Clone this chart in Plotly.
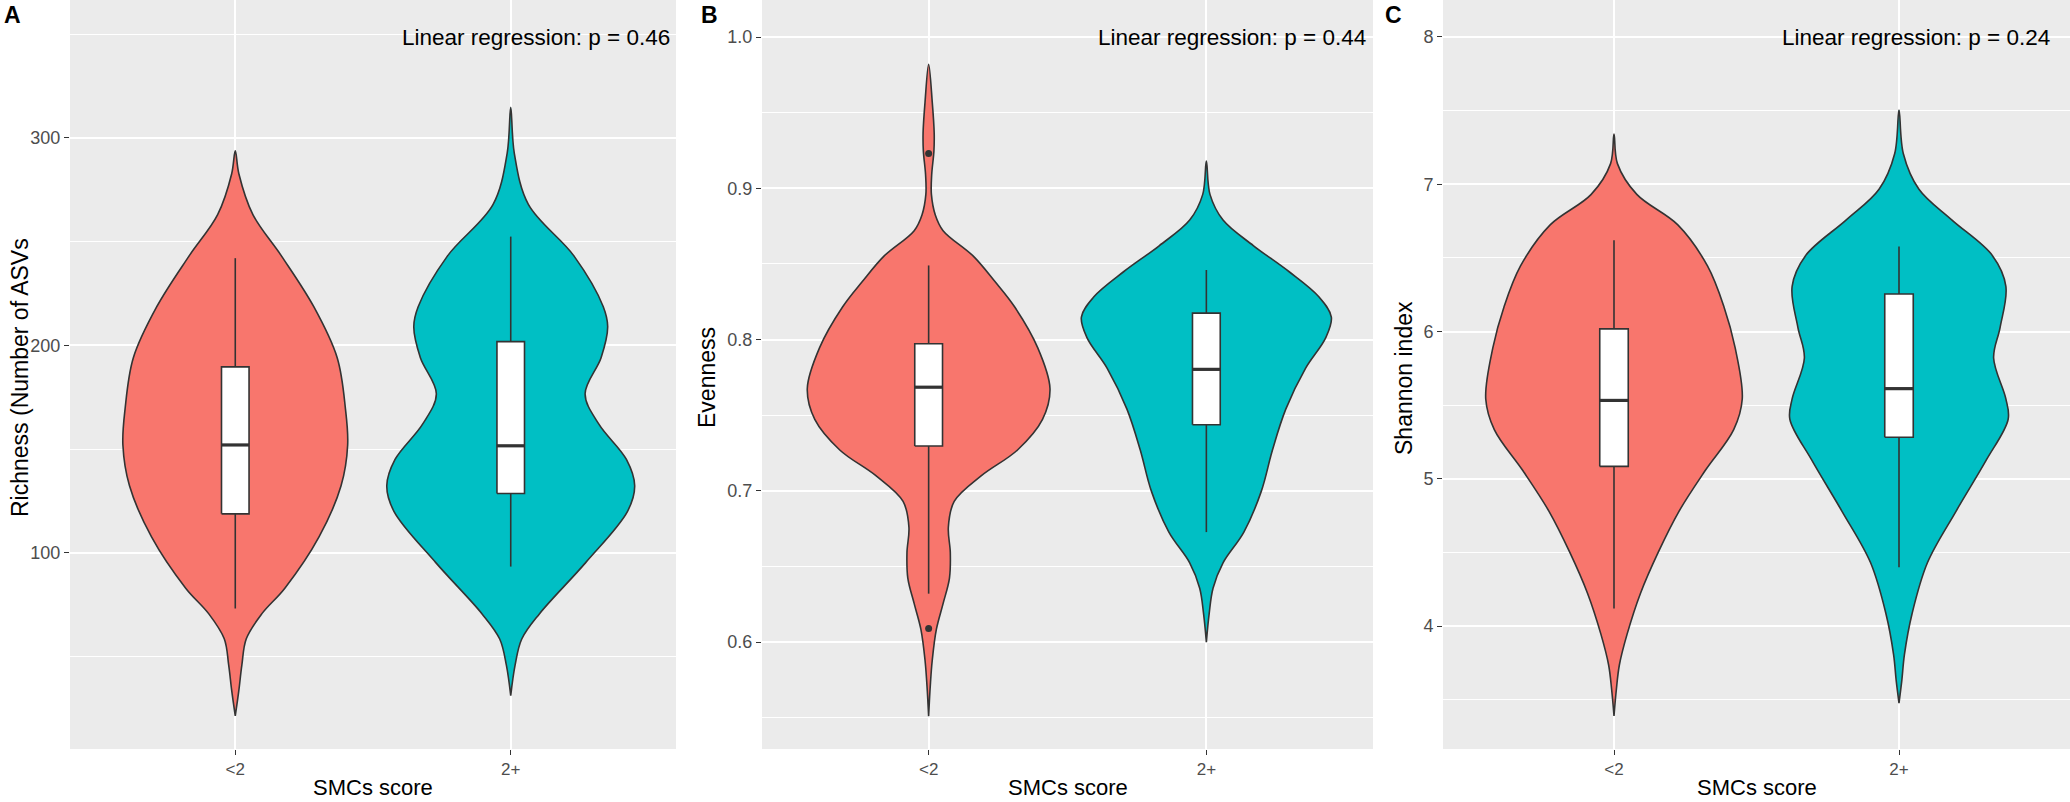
import plotly.graph_objects as go

W, H = 2070, 802
FONT = "Liberation Sans, Arial, sans-serif"
RED, TEAL = "#F8766D", "#00BFC4"
OUT = "#333333"

categories = ["<2", "2+"]
cat_pos = [1, 2]

# ---------- Panel A: Richness ----------
a_lt2_vals = [293.7, 282.7, 263, 243, 218.6, 194, 169.4, 152, 132.3, 107.7, 83, 70.6, 58.6, 46, 33.7, 21.4]
a_lt2_half = [0, 0.013, 0.064, 0.168, 0.285, 0.37, 0.40, 0.408, 0.384, 0.304, 0.18, 0.096, 0.04, 0.024, 0.013, 0]
a_ge2_vals = [314.7, 292.5, 267.9, 243, 218.6, 209, 194, 176.6, 162, 145, 132.3, 120, 95.3, 70.6, 58.5, 46, 31.2]
a_ge2_half = [0, 0.013, 0.064, 0.23, 0.336, 0.352, 0.328, 0.27, 0.32, 0.42, 0.45, 0.424, 0.272, 0.104, 0.04, 0.016, 0]
a_q1 = [118.8, 128.6]
a_med = [152, 151.6]
a_q3 = [189.6, 201.8]
a_lo = [73.2, 93.4]
a_hi = [242, 252.4]
a_out_x, a_out_y = [], []

# ---------- Panel B: Evenness ----------
b_lt2_vals = [0.982, 0.957, 0.9365, 0.9246, 0.909, 0.896, 0.8824, 0.872, 0.8553, 0.8385, 0.8215, 0.7945,
              0.7675, 0.7472, 0.727, 0.71, 0.693, 0.676, 0.6592, 0.6423, 0.6254, 0.6085, 0.588, 0.5713, 0.551]
b_lt2_half = [0, 0.013, 0.02, 0.019, 0.011, 0.01, 0.024, 0.052, 0.16, 0.238, 0.31, 0.393,
              0.437, 0.41, 0.32, 0.19, 0.092, 0.071, 0.078, 0.075, 0.052, 0.028, 0.013, 0.006, 0]
b_ge2_vals = [0.918, 0.896, 0.879, 0.862, 0.845, 0.8283, 0.8149, 0.8013, 0.781, 0.754, 0.727, 0.6998,
              0.6727, 0.6524, 0.6356, 0.6186, 0.6]
b_ge2_half = [0, 0.013, 0.06, 0.17, 0.297, 0.405, 0.45, 0.43, 0.357, 0.286, 0.238, 0.198,
              0.135, 0.06, 0.024, 0.01, 0]
b_q1 = [0.7296, 0.7437]
b_med = [0.7685, 0.7803]
b_q3 = [0.7972, 0.8175]
b_lo = [0.632, 0.6727]
b_hi = [0.849, 0.846]
b_out_x, b_out_y = [1, 1], [0.923, 0.609]

# ---------- Panel C: Shannon ----------
c_lt2_vals = [7.341, 7.14, 6.931, 6.724, 6.445, 6.167, 5.89, 5.542, 5.334, 5.056, 4.779, 4.5, 4.223, 3.945, 3.737, 3.564, 3.39]
c_lt2_half = [0, 0.012, 0.08, 0.224, 0.328, 0.386, 0.425, 0.45, 0.42, 0.32, 0.228, 0.155, 0.093, 0.046, 0.019, 0.008, 0]
c_ge2_vals = [7.504, 7.209, 6.966, 6.758, 6.515, 6.307, 6.03, 5.82, 5.542, 5.404, 5.126, 4.779, 4.431, 4.085, 3.806, 3.633, 3.477]
c_ge2_half = [0, 0.015, 0.07, 0.185, 0.328, 0.375, 0.355, 0.332, 0.375, 0.383, 0.306, 0.2, 0.1, 0.046, 0.019, 0.01, 0]
c_q1 = [5.084, 5.282]
c_med = [5.532, 5.612]
c_q3 = [6.018, 6.255]
c_lo = [4.119, 4.4]
c_hi = [6.619, 6.578]
c_out_x, c_out_y = [], []

y_titles = ["Richness (Number of ASVs", "Evenness", "Shannon index"]
p_values = ["0.46", "0.44", "0.24"]
panel_letters = ["A", "B", "C"]
x_title = "SMCs score"

# ---------- layout geometry (pixels) ----------
panel_px = [(70, 676), (762, 1373), (1443, 2070)]
panel_bottom_px = 749
y_ranges = [[5.5, 366.4], [0.5293, 1.0245], [3.165, 8.251]]
y_dticks = [100, 0.1, 1]
y_fmt = ["d", ".1f", "d"]
ytitle_x_px = [20, 707, 1404]
letter_x_px = [12, 709, 1393]
annot_shift = [-4, -5, -18]
BOX_HALF = 0.05

panels = [
    (a_lt2_vals, a_lt2_half, a_ge2_vals, a_ge2_half, a_q1, a_med, a_q3, a_lo, a_hi, a_out_x, a_out_y),
    (b_lt2_vals, b_lt2_half, b_ge2_vals, b_ge2_half, b_q1, b_med, b_q3, b_lo, b_hi, b_out_x, b_out_y),
    (c_lt2_vals, c_lt2_half, c_ge2_vals, c_ge2_half, c_q1, c_med, c_q3, c_lo, c_hi, c_out_x, c_out_y),
]

fig = go.Figure()


def violin_outline(center, vals, half):
    xs = [center - h for h in half] + [center + h for h in reversed(half)]
    ys = list(vals) + list(reversed(vals))
    return xs, ys


layout = dict(
    width=W, height=H,
    margin=dict(l=0, r=0, t=0, b=0),
    paper_bgcolor="white", plot_bgcolor="#EBEBEB",
    showlegend=False,
    font=dict(family=FONT, color="#4D4D4D"),
)
annotations = []
y_dom = [(H - panel_bottom_px) / H, 1.0]

for i, (lv, lh, gv, gh, q1, med, q3, lo, hi, ox, oy) in enumerate(panels):
    xa = "x" if i == 0 else f"x{i+1}"
    ya = "y" if i == 0 else f"y{i+1}"
    # violins
    for center, vals, half, col in [(cat_pos[0], lv, lh, RED), (cat_pos[1], gv, gh, TEAL)]:
        xs, ys = violin_outline(center, vals, half)
        fig.add_trace(go.Scatter(x=xs, y=ys, mode="lines", fill="toself", fillcolor=col,
                                 line=dict(color=OUT, width=1.6, shape="spline", smoothing=1.0),
                                 xaxis=xa, yaxis=ya, hoverinfo="skip"))
    # boxplots (drawn as scatter so they sit above the violins)
    for c, b1, m, b3, l, h in zip(cat_pos, q1, med, q3, lo, hi):
        fig.add_trace(go.Scatter(x=[c, c, None, c, c], y=[l, b1, None, b3, h], mode="lines",
                                 line=dict(color=OUT, width=1.6), xaxis=xa, yaxis=ya, hoverinfo="skip"))
        fig.add_trace(go.Scatter(x=[c - BOX_HALF, c + BOX_HALF, c + BOX_HALF, c - BOX_HALF, c - BOX_HALF],
                                 y=[b1, b1, b3, b3, b1], mode="lines", fill="toself", fillcolor="white",
                                 line=dict(color=OUT, width=1.6), xaxis=xa, yaxis=ya, hoverinfo="skip"))
        fig.add_trace(go.Scatter(x=[c - BOX_HALF, c + BOX_HALF], y=[m, m], mode="lines",
                                 line=dict(color=OUT, width=3.2), xaxis=xa, yaxis=ya, hoverinfo="skip"))
    if ox:
        fig.add_trace(go.Scatter(x=ox, y=oy, mode="markers",
                                 marker=dict(color=OUT, size=7), xaxis=xa, yaxis=ya, hoverinfo="skip"))

    x0, x1 = panel_px[i]
    key = "" if i == 0 else str(i + 1)
    layout["xaxis" + key] = dict(
        domain=[x0 / W, x1 / W], anchor=ya, range=[0.4, 2.6],
        tickvals=cat_pos, ticktext=categories, showgrid=True, gridcolor="white", gridwidth=2.2,
        zeroline=False, ticks="outside", ticklen=5, tickwidth=1.4, tickcolor=OUT,
        tickfont=dict(size=17, color="#4D4D4D", family=FONT), showline=False,
    )
    layout["yaxis" + key] = dict(
        domain=y_dom, anchor=xa, range=y_ranges[i], dtick=y_dticks[i], tick0=0,
        tickformat=y_fmt[i], showgrid=True, gridcolor="white", gridwidth=2.2,
        zeroline=False, ticks="outside", ticklen=5, tickwidth=1.4, tickcolor=OUT,
        tickfont=dict(size=18, color="#4D4D4D", family=FONT), showline=False,
        minor=dict(dtick=y_dticks[i] / 2, tick0=0, showgrid=True, gridcolor="white", gridwidth=1.1),
    )
    annotations.append(dict(text=y_titles[i], xref="paper", yref="paper",
                            x=ytitle_x_px[i] / W, y=(H - 378) / H, textangle=-90,
                            showarrow=False, xanchor="center", yanchor="middle",
                            font=dict(size=23, color="black", family=FONT)))
    annotations.append(dict(text=x_title, xref="paper", yref="paper",
                            x=(x0 + x1) / 2 / W, y=(H - 787) / H,
                            showarrow=False, xanchor="center", yanchor="middle",
                            font=dict(size=22, color="black", family=FONT)))
    annotations.append(dict(text=f"Linear regression: p = {p_values[i]}",
                            xref=f"{xa} domain", yref=f"{ya} domain", x=1, y=1,
                            xanchor="right", yanchor="middle", xshift=annot_shift[i], yshift=-37,
                            showarrow=False, font=dict(size=22.5, color="black", family=FONT)))
    annotations.append(dict(text=f"<b>{panel_letters[i]}</b>", xref="paper", yref="paper",
                            x=letter_x_px[i] / W, y=(H - 15) / H, xanchor="center", yanchor="middle",
                            showarrow=False, font=dict(size=23, color="black", family=FONT)))

layout["annotations"] = annotations
fig.update_layout(**layout)
fig.write_html("out.html", config={"displayModeBar": False},
               post_script="document.body.style.margin='0';document.body.style.overflow='hidden';")
